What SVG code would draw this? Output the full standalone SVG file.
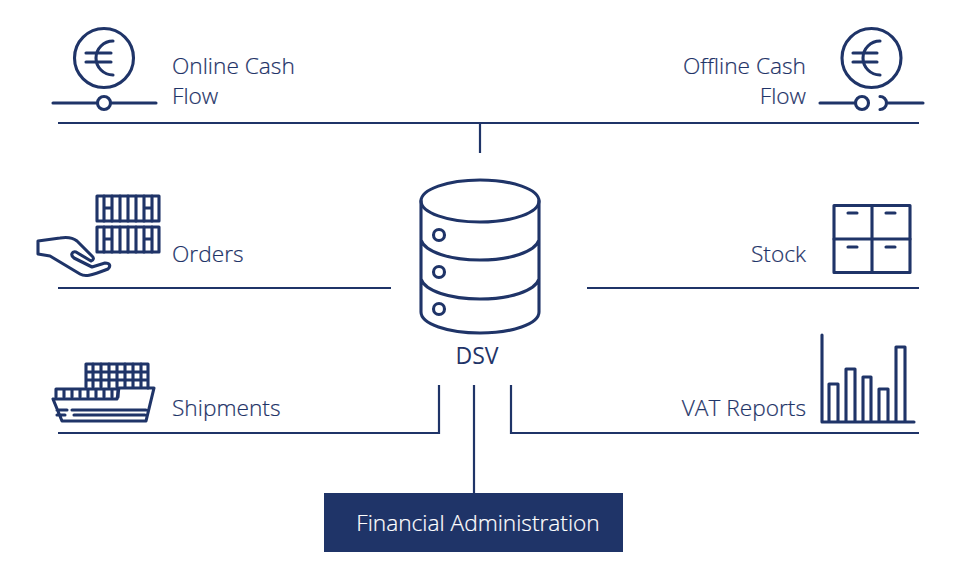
<svg xmlns="http://www.w3.org/2000/svg" width="960" height="579" viewBox="0 0 960 579">
<style>
.c{fill:none;stroke:#1f3468;stroke-width:2.2}
.i{fill:none;stroke:#1f3468;stroke-width:3.1;stroke-linecap:round;stroke-linejoin:round}
.t{font-family:"Open Sans","Noto Sans",sans-serif;font-size:22.7px;font-weight:300;fill:#1f3468;stroke:#1f3468;stroke-width:.2}
</style>
<rect width="960" height="579" fill="#fff"/>
<g id="connectors">
<path class="c" d="M58 123H919M480 123V153M58 288H391M587 288H919M58 433H439V385M511 385V433H919M474 385V493"/>
</g>
<g id="online-cash-flow">
<circle class="i" cx="104" cy="58" r="29.500"/>
<path class="i" d="M113 41A17 17 0 0 0 113 75M86 53H111M86 62H111M53 103H97M111 103H156"/>
<circle class="i" cx="104" cy="103" r="6.500"/>
<text class="t" x="172" y="74">Online Cash</text>
<text class="t" x="172" y="104">Flow</text>
</g>
<g id="offline-cash-flow">
<circle class="i" cx="871.500" cy="58" r="29.500"/>
<path class="i" d="M880 41A17 17 0 0 0 880 75M853 53H877M853 62H877M820 103H855M880 96.500A6.500 6.500 0 0 1 880 109.500M887 103H923"/>
<circle class="i" cx="862" cy="103" r="6.500"/>
<text class="t" x="806" y="74" text-anchor="end">Offline Cash</text>
<text class="t" x="806" y="104" text-anchor="end">Flow</text>
</g>
<g id="orders">
<rect class="i" x="97" y="196" width="62" height="25"/>
<rect class="i" x="97" y="227" width="62" height="25"/>
<path class="i" d="M104 196V221M112 196V221M120 196V221M128 196V221M136 196V221M144 196V221M152 196V221M104 208H112M144 208H152M104 239H112M144 239H152M104 227V252M112 227V252M120 227V252M128 227V252M136 227V252M144 227V252M152 227V252"/>
<path class="i" d="M38 241V254L50 256L80 274C85 277 90 276 108 269C111 266 110 263 105 263L92 267L74 258C70 255 72 251 76 252L91 261C94 260 94 258 92 256L77 241C72 237 66 237 60 238Z"/>
<text class="t" x="172" y="262">Orders</text>
</g>
<g id="shipments">
<path class="i" d="M86 387V364H148V388M86 372H148M86 380H148M117 364V387"/>
<path class="i" d="M93 364V387M101 364V387M109 364V387M125 364V387M133 364V387M141 364V387"/>
<path class="i" d="M56 397V389H118V397M64 389V397M72 389V397M80 389V397M88 389V397M96 389V397M104 389V397M112 389V397"/>
<path class="i" d="M53 399H117L119 388H154L146 421H62ZM57 410H67M57 415H65M72 410H146M74 415H145"/>
<text class="t" x="172" y="416">Shipments</text>
</g>
<g id="stock">
<rect class="i" x="834" y="205.500" width="76" height="67"/>
<path class="i" d="M872 205.500V272.500M834 239H910M848 213H857M886 213H895M848 247H857M886 247H895"/>
<text class="t" x="806" y="262" text-anchor="end">Stock</text>
</g>
<g id="vat-reports">
<path class="i" d="M822 335V422H914M829 422V384H838V422M846 422V369H855V422M863 422V377H871V422M879 422V389H888V422M896 422V347H905V422"/>
<text class="t" x="806" y="416" text-anchor="end">VAT Reports</text>
</g>
<g id="dsv">
<ellipse class="i" cx="480" cy="201" rx="59" ry="21"/>
<path class="i" d="M421 201V312C421 324 448 333 480 333C512 333 539 324 539 312V201M421 240C425 252 450 260 480 260C510 260 535 252 539 240M421 279C425 291 450 299 480 299C510 299 535 291 539 279"/>
<circle class="i" cx="439" cy="235" r="5.500"/>
<circle class="i" cx="439" cy="272" r="5.500"/>
<circle class="i" cx="439" cy="309" r="5.500"/>
<text class="t" x="477" y="364" text-anchor="middle" style="font-weight:400;font-size:23px;stroke:none">DSV</text>
</g>
<g id="financial-administration">
<rect x="324" y="493" width="299" height="59" fill="#1f3468"/>
<text class="t" x="478" y="531" text-anchor="middle" style="fill:#fff;stroke:#fff">Financial Administration</text>
</g>
</svg>
